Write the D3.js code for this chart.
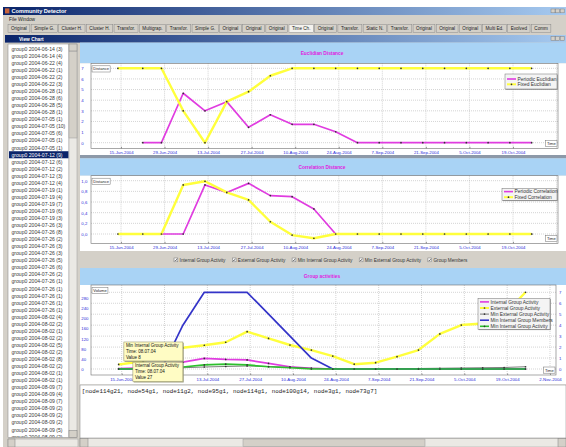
<!DOCTYPE html>
<html lang="en">
<head>
<meta charset="utf-8">
<title>Community Detector - View Chart</title>
<script src="https://cdnjs.cloudflare.com/ajax/libs/d3/7.8.5/d3.min.js"></script>
<style>
  body { margin: 0; background: #fff; }
  svg { display: block; }
</style>
</head>
<body>
<div id="canvas"></div>
<script>
// ---- data ----
const dates = ["2004-06-14","2004-06-22","2004-06-28","2004-07-05","2004-07-12","2004-07-19","2004-07-26",
  "2004-08-02","2004-08-09","2004-08-16","2004-08-23","2004-08-30","2004-09-06","2004-09-13","2004-09-20",
  "2004-09-27","2004-10-04","2004-10-11","2004-10-18","2004-10-25"];
const tickDates = ["2004-06-15","2004-06-29","2004-07-13","2004-07-27","2004-08-10","2004-08-24",
  "2004-09-07","2004-09-21","2004-10-05","2004-10-19","2004-11-02"];

const periodicEuclidian = [null,0,0,4.65,3,3.86,1.45,2.63,1.73,1.73,1.03,0,0,0,0,0,0,0,0,0];
const fixedEuclidian    = [7,7,7,3,0,3.86,4.8,6.3,7,7,7,7,7,7,7,7,7,7,7,7];
const periodicCorrelation = [null,0,0,0,0.92,0.78,0.95,0.72,0.7,0.47,0,0,0,0,0,0,0,0,0,0];
const fixedCorrelation    = [0,0,0,0.92,0.99,0.78,0.64,0.23,-0.02,-0.08,0,0,0,0,0,0,0,0,0,0];

const internalActivity    = [2,5,10,27,42,38,36,22,9,3,0,0,0,0,0,0,0,0,0,0];
const externalActivity    = [18,30,60,84,94,106,148,121,95,75,51,19,25,49,75,139,174,180,216,304];
const minExternalActivity = [0,0,2,5,8,10,12,10,7,3,1,0,0,1,2,3,4,5,6,9];
const groupMembers        = [0,0,0,4,7,7,7,5,3,1,0,0,0,0,0,0,0,0,0,0];
const minInternalActivity = [0,1,3,8,16,19,16,9,5,0,0,0,0,0,0,0,0,0,0,0];

const euclidTicks = [0,1,2,3,4,5,6,7];
const corrTicks = [0,0.2,0.4,0.6,0.8,1.0];
const volumeTicks = [0,40,80,120,160,200,240,280];
const memberTicks = [0,1,2,3,4,5,6,7];

const tabLabels = ["Original","Simple G.","Cluster H.","Cluster H.","Transfor.","Multigrap.","Transfor.",
  "Simple G.","Original","Original","Original","Time Ch.","Original","Transfor.","Static N.","Transfor.",
  "Original","Original","Original","Multi Ed.","Evolved","Comm"];
const selectedTab = "Time Ch.";

const rowDates = ["2004-06-14","2004-06-22","2004-06-28","2004-07-05","2004-07-12","2004-07-19","2004-07-26","2004-08-02","2004-08-09"];
const rowSizes = [[3,4],[4,1,2,3],[1,6,5,1],[1,10,6,1,1],[9,6,2,3,4],[1,4,7,6,3],
  [3,8,2,3,3,5,6,2,1,1,1,1,1],[4,2,1,2,5,2,8,2,1,1],[7,4,7,2,2,2,5,2,3]];
const selectedRow = 15;

const checkLabels = ["Internal Group Activity","External Group Activity","Min Internal Group Activity",
  "Min External Group Activity","Group Members"];
const memberText = "[node114g21, node54g1, node11g2, node95g1, node114g1, node100g14, node3g1, node73g7]";

// ---- setup ----
const parse = d3.timeParse("%Y-%m-%d");
const fmtDate = d3.timeFormat("%-d-%b-%Y");
const fmtComma = v => d3.format(".1f")(v).replace(".", ",");
const FONT = "'Liberation Sans', Arial, sans-serif";
const GRAY = "#d4d0c8", BAND = "#a9d3f5", AXIS_BLUE = "#2a2ad8";
const YELLOW = "#ffff3c", MAGENTA = "#e03ce0", BLUE = "#3434c8", GREEN = "#2cc02c", DARK = "#5a5a5a";

const svg = d3.select("#canvas").append("svg")
  .attr("width", 566).attr("height", 447)
  .attr("font-family", FONT);

const defs = svg.append("defs");
const tg = defs.append("linearGradient").attr("id", "titleGrad");
tg.append("stop").attr("offset", 0).attr("stop-color", "#0a246a");
tg.append("stop").attr("offset", 1).attr("stop-color", "#a6caf0");

function box(g, x, y, w, h, fill, stroke) {
  return g.append("rect").attr("x", x).attr("y", y).attr("width", w).attr("height", h)
    .attr("fill", fill).attr("stroke", stroke || "none").attr("stroke-width", 0.5);
}
function label(g, x, y, txt, size, opts = {}) {
  return g.append("text").attr("x", x).attr("y", y).attr("font-size", size)
    .attr("fill", opts.fill || "#222").attr("font-weight", opts.bold ? "bold" : null)
    .attr("text-anchor", opts.anchor || "start").text(txt);
}
function winButtons(g, xRight, y) {
  [0, 1, 2].forEach(i => box(g, xRight - 14 + i * 4.6, y, 4, 3.8, GRAY, "#808080"));
}

// ---- window chrome ----
box(svg, 0, 0, 566, 447, "#fff");
box(svg, 3, 7, 563, 440, GRAY);
box(svg, 3, 7, 563, 8, "url(#titleGrad)");
box(svg, 5, 8.4, 4.4, 5, "#c8643c");
label(svg, 11.5, 13.3, "Community Detector", 5.6, { fill: "#fff", bold: true });
winButtons(svg, 565, 9);

label(svg, 9, 21.3, "File", 4.8);
label(svg, 18, 21.3, "Window", 4.8);

// tab strip
const tabs = svg.append("g");
let tx = 8;
tabLabels.forEach(t => {
  const sel = t === selectedTab;
  const r = box(tabs, tx, 24.5, 10, 8, sel ? "#f4f2ee" : GRAY, "#8a8a8a");
  const tt = label(tabs, tx + 3, 30.3, t, 4.6);
  const w = tt.node().getComputedTextLength() + 6;
  r.attr("width", w);
  tx += w + 1.3;
});

// child window title
box(svg, 5, 35, 561, 7.6, "url(#titleGrad)");
label(svg, 19, 40.6, "View Chart", 4.8, { fill: "#fff", bold: true });
winButtons(svg, 565, 36.6);

// ---- left list ----
const list = svg.append("g");
box(list, 8, 44, 61, 393.5, "#fff", "#808080");
const rows = [];
rowDates.forEach((d, i) => rowSizes[i].forEach(n => rows.push(`group0 ${d} (${n})`)));
const rowH = 7.05;
list.append("clipPath").attr("id", "listClip").append("rect")
  .attr("x", 8).attr("y", 44.3).attr("width", 61).attr("height", 393);
const rowG = list.append("g").attr("clip-path", "url(#listClip)");
rows.forEach((t, i) => {
  const cy = 49 + i * rowH;
  if (i === selectedRow) box(rowG, 9, cy - rowH / 2, 59.5, rowH, "#0a246a");
  label(rowG, 11.5, cy + 1.8, t, 5.1, { fill: i === selectedRow ? "#fff" : "#3a3a3a" });
});
// vertical scrollbar
box(list, 69, 44, 8, 393.5, "#ebe9e4", "#9a9a9a");
box(list, 69, 44, 8, 7, GRAY, "#808080");
box(list, 69, 51.5, 8, 86.5, GRAY, "#9a9a9a");
box(list, 69, 430.5, 8, 7, GRAY, "#808080");
// bottom scrollbar of list
box(list, 8, 439, 70, 8, "#ebe9e4", "#9a9a9a");
box(list, 8, 439, 7, 8, GRAY, "#808080");

// ---- chart panels ----
function drawPanel(cfg) {
  const g = svg.append("g");
  const [fx0, fy0, fx1, fy1] = cfg.frame;
  box(g, 80, cfg.band[0], 486, cfg.band[1] - cfg.band[0], BAND);
  g.append("text").attr("x", 322).attr("y", (cfg.band[0] + cfg.band[1]) / 2).attr("dy", "0.35em")
    .attr("text-anchor", "middle").attr("font-size", 4.8).attr("font-weight", "bold")
    .attr("fill", "#e020e0").text(cfg.title);
  box(g, 80, cfg.band[1], 486, cfg.bottom - cfg.band[1], "#fff");

  // grid
  const tdates = tickDates.map(parse);
  g.append("g").selectAll("line").data(tdates.filter(d => cfg.x(d) <= fx1 + 1)).join("line")
    .attr("x1", d => cfg.x(d)).attr("x2", d => cfg.x(d)).attr("y1", fy0).attr("y2", fy1)
    .attr("stroke", "#a8a8a8").attr("stroke-width", 0.5).attr("stroke-dasharray", "1,1");
  g.append("g").selectAll("line").data(cfg.gridTicks).join("line")
    .attr("x1", fx0).attr("x2", fx1).attr("y1", d => cfg.gridY(d)).attr("y2", d => cfg.gridY(d))
    .attr("stroke", "#a8a8a8").attr("stroke-width", 0.5).attr("stroke-dasharray", "1,1");
  box(g, fx0, fy0, fx1 - fx0, fy1 - fy0, "none", "#6e6e6e").attr("stroke-width", 0.6);

  // x axis
  const xa = g.append("g").attr("transform", `translate(0,${fy1})`)
    .call(d3.axisBottom(cfg.x).tickValues(tdates.slice(0, cfg.nLabels)).tickFormat(fmtDate)
      .tickSizeInner(-1.5).tickSizeOuter(0).tickPadding(2.7));
  xa.select(".domain").remove();
  xa.selectAll("line").attr("stroke", "#555").attr("stroke-width", 0.6);
  xa.selectAll("text").attr("font-size", 4.3).attr("font-family", FONT).attr("fill", AXIS_BLUE);

  // y axis (labels left aligned in the margin)
  const ya = g.append("g").attr("transform", "translate(81.3,0)")
    .call(d3.axisRight(cfg.y).tickValues(cfg.yTicks).tickFormat(cfg.yFmt).tickSize(0).tickPadding(0));
  ya.select(".domain").remove();
  ya.selectAll("text").attr("font-size", 4.3).attr("font-family", FONT).attr("fill", AXIS_BLUE);
  if (cfg.y2) {
    const yb = g.append("g").attr("transform", "translate(559,0)")
      .call(d3.axisRight(cfg.y2).tickValues(cfg.y2Ticks).tickFormat(d3.format("d")).tickSize(0).tickPadding(0));
    yb.select(".domain").remove();
    yb.selectAll("text").attr("font-size", 4.3).attr("font-family", FONT).attr("fill", AXIS_BLUE);
  }

  // unit boxes
  const ub = box(g, fx0 + 1, fy0 + 2.5, 10, 6.2, "#fff", "#707070");
  const ut = label(g, fx0 + 2.3, fy0 + 7.1, cfg.unit, 4.0);
  ub.attr("width", ut.node().getComputedTextLength() + 2.6);
  const tb = box(g, fx1 - 11, fy1 - 8, 10, 6.2, "#fff", "#707070");
  const ttx = label(g, fx1 - 9.8, fy1 - 3.4, "Time", 4.0);
  const tw = ttx.node().getComputedTextLength() + 2.6;
  tb.attr("x", fx1 - 1 - tw).attr("width", tw);
  ttx.attr("x", fx1 - 1 - tw + 1.3);

  // series
  const pts = dates.map(parse);
  cfg.series.forEach(s => {
    const yy = s.axis === 2 ? cfg.y2 : cfg.y;
    const line = d3.line().defined(d => d[1] != null)
      .x(d => cfg.x(d[0])).y(d => yy(d[1]));
    const data = pts.map((d, i) => [d, s.values[i]]);
    g.append("path").datum(data).attr("d", line).attr("fill", "none")
      .attr("stroke", s.color).attr("stroke-width", s.width).attr("stroke-linejoin", "round");
    if (s.dots) {
      g.append("g").selectAll("circle").data(data.filter(d => d[1] != null)).join("circle")
        .attr("cx", d => cfg.x(d[0])).attr("cy", d => yy(d[1])).attr("r", 0.85).attr("fill", "#333");
    }
  });

  // legend
  const L = cfg.legend;
  const lg = g.append("g");
  box(lg, L.x + 0.8, L.y + 0.8, L.w, L.h, "#9a9a9a");
  box(lg, L.x, L.y, L.w, L.h, "#f4f4f4", "#707070");
  L.items.forEach((it, i) => {
    const cy = L.y + L.pad + i * L.step;
    lg.append("line").attr("x1", L.x + 2).attr("x2", L.x + 11).attr("y1", cy).attr("y2", cy)
      .attr("stroke", it.color).attr("stroke-width", it.width);
    if (it.dot) lg.append("circle").attr("cx", L.x + 6.5).attr("cy", cy).attr("r", 0.85).attr("fill", "#333");
    label(lg, L.x + 12.5, cy + 1.7, it.name, 4.9, { fill: "#333" });
  });
  return g;
}

// chart 1: Euclidian distance
const xTop = d3.scaleTime().domain([parse("2004-06-15"), parse("2004-10-19")]).range([121, 513]);
drawPanel({
  title: "Euclidian Distance", band: [42.6, 63.3], bottom: 155, frame: [91, 63.3, 558, 148.3],
  x: xTop, y: d3.scaleLinear().domain([0, 7]).range([142.7, 68.3]),
  yTicks: euclidTicks, yFmt: d3.format("d"), gridTicks: euclidTicks,
  gridY: d3.scaleLinear().domain([0, 7]).range([142.7, 68.3]), nLabels: 10, unit: "Distance",
  series: [
    { values: periodicEuclidian, color: MAGENTA, width: 1.7, dots: true },
    { values: fixedEuclidian, color: YELLOW, width: 2.4, dots: true }
  ],
  legend: { x: 505, y: 74, w: 52, h: 15, pad: 5, step: 5.3, items: [
    { name: "Periodic Euclidian", color: MAGENTA, width: 1.6 },
    { name: "Fixed Euclidian", color: YELLOW, width: 2, dot: true }] }
});
box(svg, 80, 155, 486, 3.3, "#8d99a8");

// chart 2: Correlation distance
const yCorr = d3.scaleLinear().domain([0, 1]).range([234, 180.7]);
drawPanel({
  title: "Correlation Distance", band: [158.3, 175.7], bottom: 251, frame: [91, 175.7, 558, 243.3],
  x: xTop, y: yCorr, yTicks: corrTicks, yFmt: fmtComma, gridTicks: corrTicks, gridY: yCorr,
  nLabels: 10, unit: "Distance",
  series: [
    { values: periodicCorrelation, color: MAGENTA, width: 1.7, dots: true },
    { values: fixedCorrelation, color: YELLOW, width: 2.4, dots: true }
  ],
  legend: { x: 502, y: 188.3, w: 55, h: 12, pad: 3.3, step: 5.6, items: [
    { name: "Periodic Correlation", color: MAGENTA, width: 1.6 },
    { name: "Fixed Correlation", color: YELLOW, width: 2, dot: true }] }
});

// checkbox row
const cb = svg.append("g");
box(cb, 80, 251, 486, 17, GRAY);
let cx = 174;
checkLabels.forEach(t => {
  box(cb, cx, 258, 3.8, 3.8, "#fff", "#707070");
  cb.append("path").attr("d", `M${cx + 0.8},${259.9} L${cx + 1.6},${260.9} L${cx + 3},${258.8}`)
    .attr("fill", "none").attr("stroke", "#222").attr("stroke-width", 0.6);
  const tt = label(cb, cx + 5.6, 261.6, t, 4.7, { fill: "#333" });
  cx += 5.6 + tt.node().getComputedTextLength() + 6.8;
});

// chart 3: Group activities
const x3 = d3.scaleTime().domain([parse("2004-06-15"), parse("2004-11-02")]).range([121.7, 550]);
const yVol = d3.scaleLinear().domain([0, 280]).range([369, 298.3]);
const yMem = d3.scaleLinear().domain([0, 7]).range([369, 292.3]);
drawPanel({
  title: "Group activities", band: [268, 285], bottom: 384.5, frame: [91, 285, 556, 375],
  x: x3, y: yVol, yTicks: volumeTicks, yFmt: d3.format("d"),
  y2: yMem, y2Ticks: memberTicks, gridTicks: memberTicks, gridY: yMem, nLabels: 11, unit: "Volume",
  series: [
    { values: internalActivity, color: MAGENTA, width: 1.7, dots: true },
    { values: externalActivity, color: YELLOW, width: 2.4, dots: true },
    { values: minExternalActivity, color: DARK, width: 0.8, dots: true },
    { values: groupMembers, color: BLUE, width: 1.7, axis: 2 },
    { values: minInternalActivity, color: GREEN, width: 1.7, dots: true }
  ],
  legend: { x: 478, y: 298.3, w: 72, h: 31, pad: 3.6, step: 6.1, items: [
    { name: "Internal Group Activity", color: MAGENTA, width: 1.6 },
    { name: "External Group Activity", color: YELLOW, width: 2, dot: true },
    { name: "Min External Group Activity", color: DARK, width: 0.8, dot: true },
    { name: "Min Internal Group Members", color: BLUE, width: 1.6 },
    { name: "Min Internal Group Activity", color: GREEN, width: 1.6, dot: true }] }
});

// tooltips anchored at the 07-05 points
function tooltip(px, py, x0, y0, w, h, lines) {
  const g = svg.append("g");
  box(g, px + x0 + 0.8, py + y0 + 0.8, w, h, "#9c9c80");
  box(g, px + x0, py + y0, w, h, "#fffcc4", "#8a8a60");
  lines.forEach((t, i) => label(g, px + x0 + 2, py + y0 + 4.9 + i * 5.9, t, 4.5, { fill: "#111" }));
}
const tipDate = parse(dates[3]);
tooltip(x3(tipDate), yVol(minInternalActivity[3]), -59, -25, 59, 19,
  ["Min Internal Group Activity", "Time: 08.07.04", "Value 8"]);
tooltip(x3(tipDate), yVol(internalActivity[3]), -50, 0, 50, 19.5,
  ["Internal Group Activity", "Time: 08.07.04", "Value 27"]);

// ---- member text area ----
box(svg, 80, 385, 486, 53, "#fff", "#808080");
svg.append("text").attr("x", 81.8).attr("y", 392.6).attr("font-size", 5.87)
  .attr("font-family", "'Liberation Mono', 'DejaVu Sans Mono', monospace").attr("fill", "#222")
  .text(memberText);

// bottom scrollbar
box(svg, 80, 438.5, 486, 8.5, "#ebe9e4", "#9a9a9a");
box(svg, 80, 438.5, 8, 8.5, GRAY, "#808080");
box(svg, 243, 439, 182, 7.5, GRAY, "#9a9a9a");
box(svg, 558, 438.5, 8, 8.5, GRAY, "#808080");
</script>
</body>
</html>
